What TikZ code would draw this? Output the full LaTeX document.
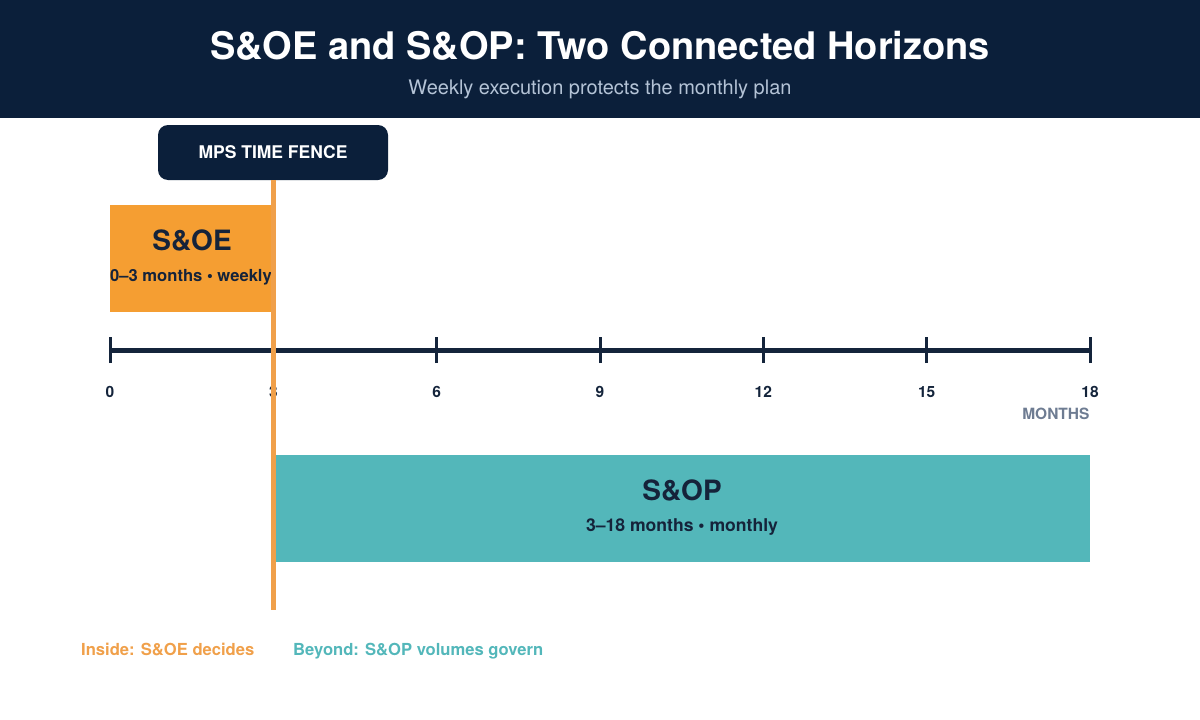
\documentclass[tikz,border=0pt]{standalone}
\usepackage{fontspec}
\setmainfont{TeX Gyre Heros}
\usetikzlibrary{positioning}

\definecolor{navy}{HTML}{0B1F3A}
\definecolor{axisnavy}{HTML}{14243B}
\definecolor{soeorange}{HTML}{F59E32}
\definecolor{fenceorange}{HTML}{F0A04A}
\definecolor{soptea}{HTML}{53B7BA}
\definecolor{subgray}{HTML}{B4C3D6}
\definecolor{unitgray}{HTML}{6E7C92}
\definecolor{darktext}{HTML}{15233A}

\newcommand{\fsz}[1]{\fontsize{#1}{#1}\selectfont}

\tikzset{
	titletext/.style={text=white, anchor=base, font=\bfseries\fsz{38}},
	subtext/.style={text=subgray, anchor=base, font=\fsz{20}},
	fencebox/.style={fill=navy, rounded corners=10pt, minimum width=230pt, minimum height=55pt},
	fencetext/.style={text=white, anchor=base, font=\bfseries\fsz{17.5}},
	horizonbox/.style={minimum height=107pt, inner sep=0pt},
	boxhead/.style={text=darktext, anchor=base, font=\bfseries\fsz{28}},
	boxsub/.style={text=darktext, anchor=base, font=\bfseries\fsz{16.6}},
	axisline/.style={draw=axisnavy, line width=5pt},
	tickmark/.style={draw=axisnavy, line width=3pt},
	ticklabel/.style={text=axisnavy, anchor=base, font=\bfseries\fsz{15.5}},
	fenceline/.style={draw=fenceorange, line width=5pt},
	notetext/.style={font=\bfseries\fsz{16.6}, anchor=base west, inner sep=0pt}
}

\begin{document}
\begin{tikzpicture}[x=1pt, y=-1pt]
	\useasboundingbox (0,0) rectangle (1200,720);

	%% HEADER
	\fill[navy] (0,0) rectangle (1200,118);
	\node[titletext](title) at (600,59){S\&OE and S\&OP: Two Connected Horizons};
	\node[subtext](subtitle) at (600,94.5){Weekly execution protects the monthly plan};

	%% S&OE horizon
	\node[horizonbox, fill=soeorange, minimum width=163pt](soe) at (191.5,258.5){};
	\node[boxhead](soe_head) at (192,250){S\&OE};
	\node[boxsub](soe_sub) at (191,281){0--3 months • weekly};

	%% TIMELINE
	\coordinate (axis_start) at (110,350);
	\coordinate (axis_end) at (1090,350);
	\draw[axisline] (axis_start) -- (axis_end);
	\foreach \m [count=\i from 0] in {0,3,...,18}{
		\coordinate (tick_\m) at (110+163.333*\i,350);
		\draw[tickmark] ([yshift=-13pt]tick_\m) -- ([yshift=13pt]tick_\m);
		\node[ticklabel](label_\m) at (110+163.333*\i,397.5){\m};
	}
	\node[ticklabel, text=unitgray, anchor=base east](months) at (1093,419.5){MONTHS};

	%% S&OP horizon
	\node[horizonbox, fill=soptea, minimum width=817pt](sop) at (681.5,508.5){};
	\node[boxhead](sop_head) at (682,500){S\&OP};
	\node[boxsub, font=\bfseries\fsz{17.6}](sop_sub) at (682,531){3--18 months • monthly};

	%% TIME FENCE
	\node[fencebox](fence) at (273,152.5){};
	\node[fencetext](fence_text) at (273,158.5){MPS TIME FENCE};
	\coordinate (fence_end) at (273,610);
	\draw[fenceline] (fence.south) -- (fence_end);

	%% NOTES
	\node[notetext, text=fenceorange](note_inside) at (81,655.5){Inside: S\&OE decides};
	\node[notetext, text=soptea](note_beyond) at (293,655.5){Beyond: S\&OP volumes govern};
\end{tikzpicture}
\end{document}
